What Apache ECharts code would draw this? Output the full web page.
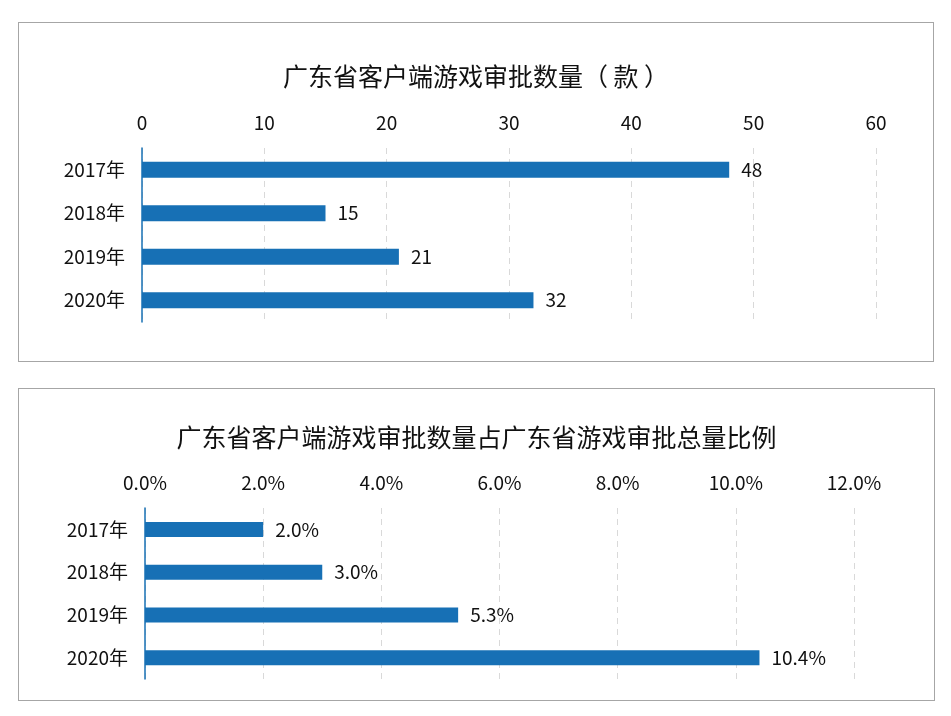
<!DOCTYPE html>
<html lang="zh">
<head>
    <meta charset="UTF-8">
    <title>广东省客户端游戏审批</title>
    <script src="https://cdn.jsdelivr.net/npm/echarts@6/dist/echarts.min.js"></script>
</head>
<style>
html,body{margin: 0;padding: 0;background: #fff}
.box{position: absolute;border: 1px solid #a6a6a6;background: #fff}
#countBox{left: 18px;top: 22px;width: 914px;height: 338px}
#ratioBox{left: 18px;top: 388px;width: 915px;height: 311px}
</style>
<body>
    <div class="box" id="countBox"></div>
    <div class="box" id="ratioBox"></div>
</body>
<script>
// 数据
const years = ['2017年', '2018年', '2019年', '2020年'];
const countValues = [48, 15, 21, 32];
const ratioValues = [2.0, 3.0, 5.3, 10.4];
const countTicks = [0, 10, 20, 30, 40, 50, 60];
const ratioTicks = [0, 2, 4, 6, 8, 10, 12];

const FONT = '"Noto Sans CJK SC", "Noto Sans", sans-serif';
const BAR_COLOR = '#1770b5';
const TEXT_COLOR = '#111';

// 生成单个横向柱状图配置
function buildOption(title, titleTop, values, ticks, grid, fmt, barWidth) {
    return {
        animation: false,
        textStyle: {fontFamily: FONT},
        title: {
            text: title,
            left: 'center',
            top: titleTop,
            textStyle: {fontSize: 25, fontWeight: 'normal', color: TEXT_COLOR, fontFamily: FONT}
        },
        grid: grid,
        xAxis: {
            type: 'value',
            position: 'top',
            min: ticks[0],
            max: ticks[ticks.length - 1],
            interval: ticks[1] - ticks[0],
            axisLine: {show: false},
            axisTick: {show: false},
            axisLabel: {
                margin: 16,
                fontSize: 19,
                color: TEXT_COLOR,
                fontFamily: FONT,
                formatter: fmt
            },
            splitLine: {show: true, lineStyle: {color: '#d9d9d9', type: [6, 5], width: 1}}
        },
        yAxis: {
            type: 'category',
            inverse: true,
            data: years,
            axisLine: {show: true, lineStyle: {color: BAR_COLOR, width: 1.5}},
            axisTick: {show: false},
            axisLabel: {margin: 17, fontSize: 19, color: TEXT_COLOR, fontFamily: FONT}
        },
        series: [{
            type: 'bar',
            data: values,
            barWidth: barWidth,
            itemStyle: {color: BAR_COLOR},
            label: {
                show: true,
                position: 'right',
                distance: 12,
                fontSize: 19,
                color: TEXT_COLOR,
                fontFamily: FONT,
                formatter: function (p) { return fmt(p.value); }
            }
        }]
    };
}

let countChart = echarts.init(document.getElementById('countBox'));
countChart.setOption(buildOption(
    '广东省客户端游戏审批数量（ 款 ）', 36, countValues, countTicks,
    {left: 123, top: 125, width: 734, height: 174},
    function (v) { return String(v); }, 16
));

let ratioChart = echarts.init(document.getElementById('ratioBox'));
ratioChart.setOption(buildOption(
    '广东省客户端游戏审批数量占广东省游戏审批总量比例', 31, ratioValues, ratioTicks,
    {left: 126, top: 119, width: 709, height: 171},
    function (v) { return Number(v).toFixed(1) + '%'; }, 15
));
</script>
</html>
